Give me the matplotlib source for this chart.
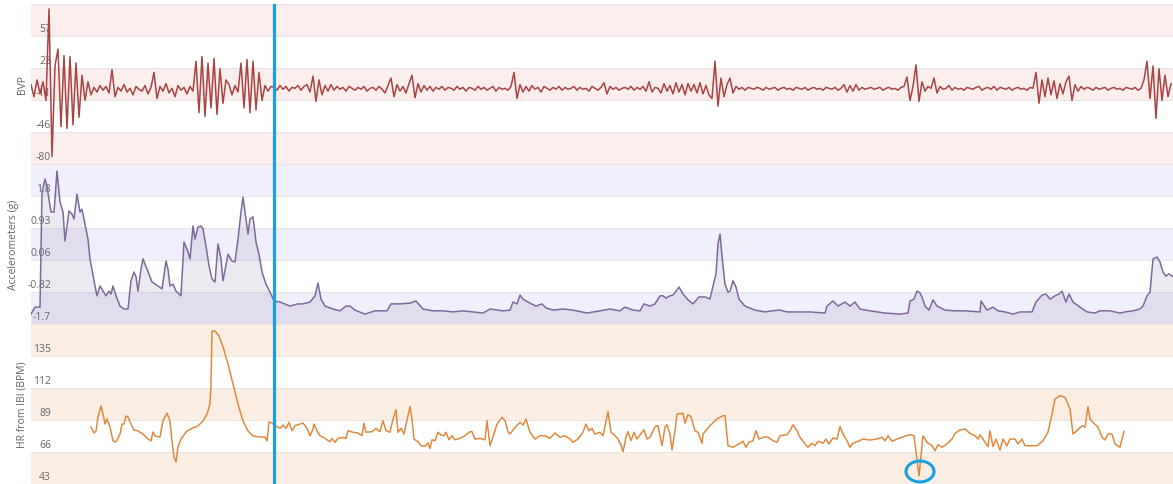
import numpy as np
import matplotlib
matplotlib.use("Agg")
import matplotlib.pyplot as plt
from matplotlib.patches import Ellipse

plt.rcParams['font.family'] = ['Open Sans', 'DejaVu Sans']

# ---------------- data ----------------
# BVP samples (one every 3 s)
bvp_v = [
    5, -8, 10, -5, 8, -12, 86, -72, 25, 43, -40, 36, -42, 35, -38, 28, -30, 15, -12, 8, -6,
    2, -3, 4, -1, 3, -4, 21, -8, 2, -2, 5, -3, 1, -6, 3, 0, -2, 4, -5, 2,
    18, -10, 3, -2, 6, -4, 1, -8, 4, -1, 2, -5, 3, -2,
    30, -25, 35, -29, 28, -20, 33, -27, 22, -15, 10,
    5, -6, 4, -3,
    28, -20, 32, -25, 30, -22, 18, -12,
    4, -2, 3,
    2, -1, 4, 0, 3, -2, 2, 1, 4, -1, 3, 5, -3, 14, -13, 10, -6, 4, -2, 5,
    -1, 3, 0, 2, -2, 3, 1, -1, 2, 0, 3, -2, 1, 2, -1, 3, 0, -4, 4, 12,
    -8, 5, -2, 3, -4, 6, 15, -9, 6, -3, 4, -1, 3, -2, 2, 0, 3, -1, 2, 1,
    -1, 3, 0, 2, -2, 2, 1, -1, 3, 0, 2, -1, 1, 3, -2, 2, 0, 1, -1, 3,
    18, -10, 5, -3, 3, -2, 4, 0, 2, -3, 3, 1, -1, 2, 0, 3, -1, 2, 0, 1,
    3, -1, 2, 0, 1, -2, 3, 1, -1, 2, 7, -5, 3, 0, 2, -1, 1, 2, 0, 3,
    -1, 2, 0, 3, -2, 8, -3, 2, 1, -4, 6, -2, 4, -5, 7, -3, 5, -6, 6, -2,
    5, -4, 7, -5, 4, -6, -10, 30, -18, 12, -8, 5, 12, -4, 3, 0, 2, -1, 2, 1,
    0, 2, 1, -1, 2, 0, 1, 2, -1, 1, 2, 0, 1, -1, 2, 1, 0, 2, -1, 1,
    2, 0, 1, -1, 2, 1, 0, 2, -1, 1, 5, -3, 4, -2, 5, -1, 2, 0, 1, 2,
    0, 1, 2, -1, 1, 2, 0, 1, -1, 2, 3, 13, -12, 3, 26, -13, 8, -2, 3, 1,
    12, -4, 3, 0, 1, 4, -1, 2, 0, 1, -1, 2, 1, 0, 2, 3, -1, 1, 2, 0,
    3, -1, 2, 1, 0, 2, -1, 1, 2, 0, 1, -1, 2, 1, 18, -15, 10, -8, 12, -6,
    9, -10, 6, -5, 8, 14, -12, 5, -2, 3, 0, 2, 1, -1, 2, 0, 1, 2, -1, 1,
    2, 0, 1, -1, 2, 1, 0, 2, -1, 1, 10, 30, -10, 25, -31, 22, -12, 15, -8, 6,
]
bvp_step = 3

acc_t = [0, 4, 9, 11, 14, 16, 20, 23, 26, 29, 32, 34, 38, 41, 43, 46, 49, 51, 54, 57,
         59, 64, 66, 69, 72, 75, 78, 80, 82, 85, 89, 93, 97, 100, 103, 105, 107, 110, 112, 116,
         121, 127, 131, 135, 137, 139, 142, 145, 150, 153, 156, 159, 162, 164, 167, 170, 172, 175, 178, 181,
         184, 187, 190, 192, 197, 201, 204, 207, 210, 212, 215, 217, 219, 222, 225, 228, 231, 235, 239, 243,
         249, 259, 267, 272, 279, 284, 287, 290, 294, 302, 309, 315, 319, 324, 334, 344, 356, 360, 369, 379,
         385, 392, 402, 412, 422, 432, 442, 452, 459, 472, 479, 482, 486, 489, 492, 499, 505, 511, 515, 522,
         532, 542, 556, 569, 579, 589, 594, 602, 609, 613, 619, 624, 629, 632, 635, 639, 642, 648, 652, 657,
         662, 668, 674, 679, 682, 685, 687, 689, 691, 694, 697, 699, 702, 705, 708, 714, 724, 734, 741, 749,
         756, 769, 779, 794, 796, 802, 807, 814, 819, 824, 829, 839, 854, 869, 877, 879, 883, 886, 889, 891,
         894, 898, 902, 906, 914, 924, 934, 949, 950, 956, 962, 967, 974, 982, 989, 1001, 1005, 1011, 1015, 1019,
         1024, 1028, 1031, 1035, 1038, 1042, 1049, 1056, 1064, 1069, 1079, 1089, 1094, 1102, 1109, 1112, 1116, 1119, 1122, 1126,
         1129, 1132, 1135, 1138, 1142]
acc_v = [-1.43, -1.24, -1.24, 1.91, 2.26, 2.07, 1.36, 1.36, 2.48, 1.64, 1.36, 0.57, 1.39, 1.31, 1.17, 1.85, 1.36, 1.44, 1.03, 0.62,
         0.08, -0.66, -0.93, -0.66, -0.80, -0.93, -0.80, -0.88, -0.66, -0.93, -1.21, -1.29, -1.29, -0.52, -0.28, -0.41, -0.80, -0.20, 0.08, -0.20,
         -0.55, -0.66, -0.74, 0.02, -0.20, -0.66, -0.61, -0.80, -0.93, 0.54, 0.35, 0.08, 0.98, 0.62, 0.95, 0.98, 0.90, 0.43, -0.11, -0.47,
         -0.55, 0.49, 0.08, -0.52, 0.21, 0.02, 0.00, 0.62, 1.36, 1.77, 1.17, 0.76, 1.17, 1.23, 0.54, 0.21, -0.28, -0.61, -0.83, -1.07,
         -1.10, -1.21, -1.15, -1.15, -1.10, -0.93, -0.58, -1.02, -1.21, -1.29, -1.34, -1.21, -1.21, -1.32, -1.43, -1.34, -1.34, -1.15, -1.15, -1.13,
         -1.07, -1.29, -1.34, -1.34, -1.37, -1.34, -1.37, -1.40, -1.29, -1.34, -1.32, -1.10, -1.15, -0.91, -1.02, -1.13, -1.21, -1.15, -1.26, -1.32,
         -1.29, -1.32, -1.40, -1.34, -1.29, -1.34, -1.24, -1.32, -1.34, -1.15, -1.21, -1.15, -0.93, -0.93, -0.99, -0.93, -0.91, -0.69, -0.88, -1.04,
         -1.15, -0.96, -0.96, -1.02, -0.66, -0.33, 0.49, 0.76, 0.16, -0.61, -0.83, -0.80, -0.52, -0.69, -1.02, -1.21, -1.32, -1.37, -1.34, -1.32,
         -1.37, -1.37, -1.37, -1.40, -1.21, -1.07, -1.21, -1.10, -1.21, -1.10, -1.29, -1.34, -1.40, -1.43, -1.40, -1.07, -1.02, -0.80, -0.85, -0.96,
         -1.21, -1.32, -1.04, -1.21, -1.32, -1.34, -1.34, -1.37, -1.07, -1.32, -1.24, -1.34, -1.37, -1.43, -1.37, -1.37, -1.10, -0.91, -0.88, -1.02,
         -0.93, -0.88, -0.80, -1.10, -0.88, -1.10, -1.24, -1.37, -1.40, -1.34, -1.34, -1.40, -1.37, -1.34, -1.29, -1.21, -0.93, -0.83, 0.08, 0.13,
         0.00, -0.28, -0.39, -0.33, -0.41]

hr_t = [60, 63, 65, 67, 70, 72, 74, 76, 79, 82, 85, 89, 91, 93, 95, 97, 100, 103, 107, 112,
        117, 120, 122, 124, 129, 132, 136, 139, 141, 143, 145, 147, 150, 156, 162, 167, 172, 176, 179, 180,
        181, 184, 188, 192, 197, 202, 207, 212, 217, 222, 229, 234, 236, 238, 241, 245, 249, 252, 255, 258,
        261, 264, 269, 272, 276, 279, 282, 283, 286, 289, 294, 299, 301, 304, 307, 312, 315, 317, 322, 327,
        331, 333, 335, 341, 345, 349, 352, 355, 359, 362, 365, 367, 370, 373, 377, 379, 381, 383, 387, 390,
        394, 397, 399, 401, 404, 407, 410, 413, 415, 418, 421, 424, 429, 434, 439, 441, 444, 449, 454, 456,
        459, 463, 466, 471, 474, 477, 479, 484, 489, 492, 495, 499, 504, 509, 514, 519, 524, 529, 534, 539,
        542, 547, 552, 555, 558, 561, 564, 569, 572, 577, 580, 584, 587, 590, 592, 595, 597, 600, 603, 606,
        609, 613, 616, 619, 624, 627, 631, 634, 636, 639, 641, 644, 646, 652, 654, 657, 660, 664, 667, 671,
        672, 679, 686, 692, 694, 697, 702, 709, 712, 715, 718, 722, 725, 728, 734, 737, 742, 746, 749, 756,
        759, 762, 766, 769, 774, 777, 781, 784, 787, 792, 795, 798, 802, 806, 809, 812, 816, 819, 822, 827,
        832, 839, 846, 851, 854, 857, 861, 866, 871, 875, 879, 883, 888, 892, 896, 901, 904, 907, 911, 916,
        921, 924, 929, 934, 939, 944, 947, 949, 952, 957, 959, 962, 965, 969, 972, 976, 979, 984, 987, 991,
        994, 999, 1006, 1012, 1017, 1021, 1024, 1029, 1034, 1039, 1042, 1046, 1051, 1054, 1057, 1059, 1062, 1067, 1071, 1074,
        1077, 1081, 1084, 1089, 1093]
hr_v = [84.0, 79.7, 81.1, 91.2, 99.1, 93.3, 86.1, 89.7, 84.0, 73.9, 73.2, 78.9, 86.1, 86.1, 91.9, 91.2, 86.1, 81.8, 81.1, 78.9,
        75.3, 73.9, 80.4, 77.5, 76.8, 88.3, 94.0, 88.3, 73.9, 62.4, 58.8, 69.6, 75.3, 81.1, 83.3, 84.7, 88.3, 93.3, 100.5, 114.9,
        153.0, 153.0, 149.4, 141.5, 129.3, 114.9, 100.5, 88.3, 81.1, 77.5, 76.8, 76.8, 73.9, 87.6, 86.8, 84.7, 83.0, 85.4, 83.0, 87.3,
        81.3, 84.9, 86.1, 86.8, 83.0, 77.7, 82.5, 86.1, 81.3, 77.7, 75.8, 73.4, 75.8, 73.0, 75.8, 76.5, 75.8, 81.3, 80.2, 79.7,
        77.7, 86.6, 80.2, 80.6, 83.0, 80.6, 88.5, 81.3, 80.2, 89.7, 96.4, 80.2, 83.0, 78.9, 92.1, 98.8, 89.7, 75.3, 73.4, 70.5,
        70.1, 72.5, 68.6, 74.8, 74.1, 80.2, 78.2, 77.7, 80.2, 74.8, 77.7, 74.8, 75.8, 77.7, 80.6, 80.6, 75.3, 75.8, 74.8, 88.5,
        70.5, 78.9, 86.1, 90.9, 88.5, 80.6, 78.9, 83.7, 87.3, 85.4, 89.7, 80.2, 75.3, 77.7, 77.7, 75.8, 79.7, 76.6, 77.7, 75.3,
        73.0, 75.3, 80.2, 86.1, 81.3, 83.0, 78.9, 80.2, 77.7, 95.0, 80.2, 77.7, 75.3, 71.0, 66.2, 76.6, 80.6, 74.1, 80.2, 75.3,
        78.2, 82.0, 75.3, 76.6, 84.2, 84.9, 70.5, 83.8, 85.6, 78.9, 67.4, 81.3, 93.3, 93.8, 86.6, 92.8, 91.4, 81.3, 80.2, 72.3,
        78.9, 84.9, 89.7, 92.1, 92.1, 70.5, 69.4, 72.3, 73.7, 69.4, 73.0, 74.1, 81.3, 75.3, 77.0, 76.6, 74.1, 73.0, 77.7, 78.4,
        81.3, 85.6, 81.3, 76.6, 71.8, 69.4, 72.3, 70.5, 73.7, 72.3, 75.3, 71.8, 76.1, 75.3, 84.2, 78.9, 74.1, 69.4, 72.3, 73.7,
        75.3, 74.6, 75.3, 76.6, 74.1, 77.7, 73.7, 75.3, 76.6, 77.7, 78.4, 77.7, 48.8, 77.7, 73.0, 70.5, 66.9, 71.3, 69.4, 71.8,
        75.3, 79.4, 81.8, 82.5, 79.4, 77.7, 75.3, 78.4, 75.3, 69.8, 81.3, 69.8, 75.3, 67.4, 75.3, 70.5, 75.3, 75.3, 71.8, 75.3,
        70.5, 70.5, 70.5, 74.1, 80.2, 93.3, 104.1, 106.5, 105.3, 96.9, 78.9, 81.3, 84.9, 83.8, 98.6, 89.7, 87.3, 83.8, 76.6, 74.6,
        78.9, 78.9, 71.8, 69.4, 80.9]

bvp_levels = [-80, -45.75, -11.5, 22.75, 57, 91.25]
bvp_labels = ['-80', '-46', '-11', '23', '57']
acc_levels = [-1.7, -0.825, 0.05, 0.925, 1.8, 2.675]
acc_labels = ['-1.7', '-0.82', '0.06', '0.93', '1.8']
hr_levels = [43, 66, 89, 112, 135, 158]
hr_labels = ['43', '66', '89', '112', '135']

cursor_t = 242.5
marker_t, marker_v = 889, 52.0
t_span = 1142

# ---------------- figure ----------------
W, H = 1173, 485
fig = plt.figure(figsize=(W / 100, H / 100), dpi=100)


def add_ax(top, bottom):
    return fig.add_axes([31 / W, 1 - bottom / H, (W - 31) / W, (bottom - top) / H])


def decorate(ax, levels, labels, band_color):
    ax.set_xlim(0, t_span)
    ax.set_ylim(levels[0], levels[-1])
    ax.axis('off')
    for k in range(0, 5, 2):
        ax.axhspan(levels[k], levels[k + 1], color=band_color, lw=0, zorder=0)
    for lv in levels:
        ax.axhline(lv, color='#e6e6e6', lw=0.8, zorder=0.5)
    for lv, lab in zip(levels[:5], labels):
        ax.annotate(lab, xy=(0, lv), xycoords=('axes fraction', 'data'),
                    xytext=(20, 2), textcoords='offset pixels',
                    ha='right', va='bottom', fontsize=7.5, color='#666666', zorder=1)
    ax.axvline(cursor_t, color='#18a0e0', lw=2.3, zorder=6)


ax_bvp = add_ax(5, 165)
ax_acc = add_ax(165, 325)
ax_hr = add_ax(325, 485)

decorate(ax_bvp, bvp_levels, bvp_labels, '#fdeeee')
decorate(ax_acc, acc_levels, acc_labels, '#f2effd')
decorate(ax_hr, hr_levels, hr_labels, '#fdeee4')

bvp_t = np.arange(len(bvp_v)) * bvp_step
ax_bvp.plot(bvp_t, bvp_v, color='#a84444', lw=1.1, zorder=3)

ax_acc.fill_between(acc_t, acc_v, acc_levels[0], color='#7a6a96', alpha=0.14, lw=0, zorder=2)
ax_acc.plot(acc_t, acc_v, color='#7c6a9c', lw=1.1, zorder=3)

ax_hr.plot(hr_t, hr_v, color='#e08a40', lw=1.1, zorder=3)
ax_hr.add_patch(Ellipse((marker_t, marker_v), width=28, height=15, fill=False,
                        edgecolor='#18a0e0', lw=2.2, zorder=7))

fig.text(22 / W, 1 - 85 / H, 'BVP', rotation=90, ha='center', va='center', fontsize=7.5, color='#666666')
fig.text(14 / W, 1 - 245 / H, 'Accelerometers (g)', rotation=90, ha='center', va='center', fontsize=7.5, color='#666666')
fig.text(22 / W, 1 - 405 / H, 'HR from IBI (BPM)', rotation=90, ha='center', va='center', fontsize=7.5, color='#666666')

fig.savefig('out.png', dpi=100)
